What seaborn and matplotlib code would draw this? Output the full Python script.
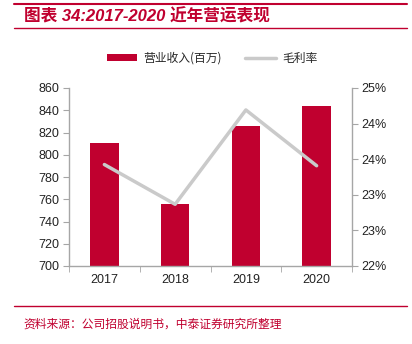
import numpy as np
import pandas as pd
import matplotlib
matplotlib.use("Agg")
import matplotlib.pyplot as plt
from matplotlib.patches import Patch
from matplotlib.lines import Line2D
from matplotlib.ticker import FuncFormatter, FixedLocator
import seaborn as sns

years = ["2017", "2018", "2019", "2020"]
revenue = [811, 756, 826, 844]          # 营业收入(百万)
margin = [23.71, 23.04, 24.63, 23.69]   # 毛利率 (%)
left_ticks = [700, 720, 740, 760, 780, 800, 820, 840, 860]
right_ticks = [22.0, 22.6, 23.2, 23.8, 24.4, 25.0]

title = "图表 34:2017-2020 近年营运表现"
source = "资料来源：公司招股说明书，中泰证券研究所整理"
label_rev = "营业收入(百万)"
label_margin = "毛利率"

sns.set_style("white")
plt.rcParams["font.family"] = ["Liberation Sans", "Noto Sans CJK SC", "DejaVu Sans"]

RED = "#C0002F"
GRAY_LINE = "#CACACA"
SPINE = "#A6A6A6"

df = pd.DataFrame({"year": years, "revenue": revenue, "margin": margin})

fig = plt.figure(figsize=(4.12, 3.44), dpi=100)
ax = fig.add_axes([69 / 412, 1 - 266 / 344, (352 - 69) / 412, (266 - 88) / 344])

sns.barplot(data=df, x="year", y="revenue", color=RED, width=0.4, ax=ax,
            saturation=1, edgecolor="none")
ax.set_xlim(-0.5, 3.5)
ax.set_ylim(700, 860)
ax.set_yticks(left_ticks)
ax.set_xlabel("")
ax.set_ylabel("")

ax2 = ax.twinx()
sns.lineplot(x=np.arange(len(years)), y=df["margin"], color=GRAY_LINE, lw=2.5, ax=ax2)
ax2.set_ylim(22, 25)
ax2.yaxis.set_major_locator(FixedLocator(right_ticks))
ax2.yaxis.set_major_formatter(FuncFormatter(lambda v, p: f"{v:.0f}%"))
ax2.set_ylabel("")
ax.set_xlim(-0.5, 3.5)

for a in (ax, ax2):
    a.spines["top"].set_visible(False)
    for s in ("left", "right", "bottom"):
        a.spines[s].set_color(SPINE)
        a.spines[s].set_linewidth(1.0)
ax.spines["right"].set_visible(False)
ax2.spines["left"].set_visible(False)
ax2.spines["bottom"].set_visible(False)

ax.tick_params(axis="y", which="major", direction="out", length=4, color=SPINE,
               labelsize=9, labelcolor="#222222", pad=3, left=True)
ax2.tick_params(axis="y", which="major", direction="out", length=4, color=SPINE,
                labelsize=9, labelcolor="#222222", pad=3, right=True)
ax.set_xticks(range(len(years)))
ax.set_xticklabels(years)
ax.tick_params(axis="x", which="major", length=0, labelsize=9, labelcolor="#222222", pad=6)
ax.set_xticks(np.arange(-0.5, len(years), 1.0), minor=True)
ax.tick_params(axis="x", which="minor", direction="out", length=4, color=SPINE, bottom=True)

# legend
handles = [Patch(facecolor=RED, edgecolor="none", label=label_rev),
           Line2D([0], [0], color=GRAY_LINE, lw=2.5, label=label_margin)]
fig.legend(handles=handles, loc="center", bbox_to_anchor=(212 / 412, 1 - 58 / 344),
           ncol=2, frameon=False, handlelength=2.6, handleheight=0.5,
           columnspacing=2.0, handletextpad=0.5,
           prop={"family": ["Noto Sans CJK SC", "DejaVu Sans"], "size": 8.5})

# title and decoration
fig.add_artist(Line2D([14 / 412, 407 / 412], [1 - 4 / 344, 1 - 4 / 344], color=RED, lw=1.5))
fig.add_artist(Line2D([14 / 412, 407 / 412], [1 - 28 / 344, 1 - 28 / 344], color=RED, lw=1.0))
fig.text(24 / 412, 1 - 16 / 344, title, color=RED, fontsize=12, fontweight="bold",
         style="italic", va="center", ha="left",
         family=["Liberation Sans", "Noto Sans CJK SC", "DejaVu Sans"])
fig.add_artist(Line2D([14 / 412, 407 / 412], [1 - 306 / 344, 1 - 306 / 344], color=RED, lw=1.0))
fig.text(23 / 412, 1 - 324 / 344, source, color=RED, fontsize=8.5, va="center", ha="left",
         family=["Noto Sans CJK SC", "DejaVu Sans"])

fig.savefig("out.png", dpi=100, facecolor="white")
